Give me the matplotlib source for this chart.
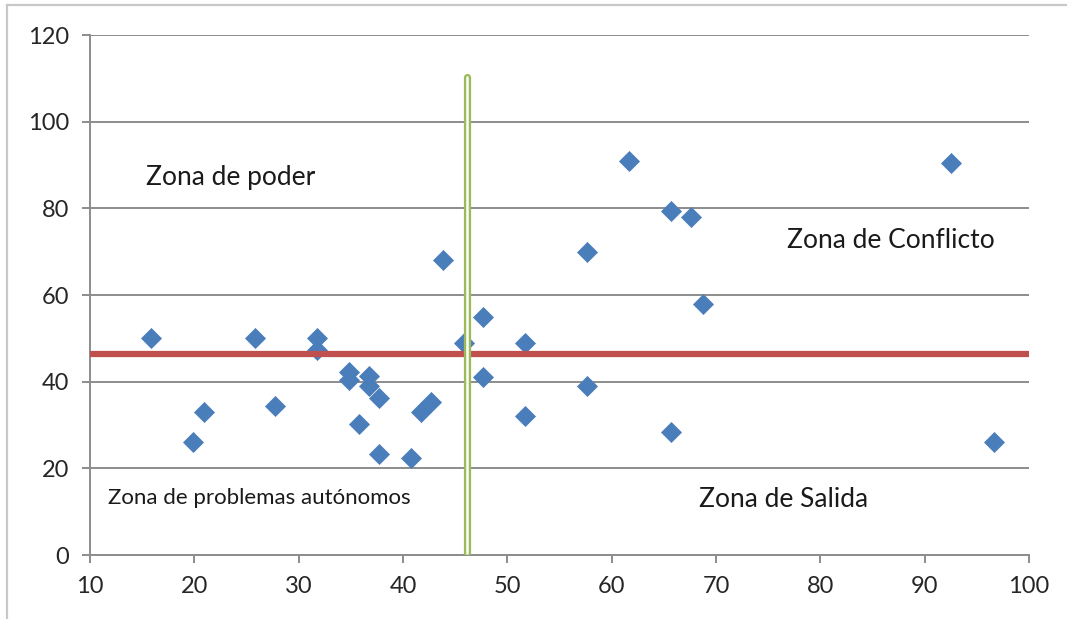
import matplotlib

matplotlib.use("Agg")
import matplotlib.pyplot as plt
from matplotlib.lines import Line2D

plt.rcParams["font.family"] = ["Lato", "DejaVu Sans"]

# Scatter points
x_vals = [15.85, 19.9, 20.9, 25.8, 27.7, 31.8, 31.8, 34.8, 34.8, 35.8, 36.7,
          36.7, 37.7, 37.7, 40.8, 41.7, 42.7, 43.8, 45.8, 47.7, 47.7, 51.7,
          51.7, 57.6, 57.6, 61.7, 65.7, 65.7, 67.6, 68.8, 92.5, 96.6]
y_vals = [50, 26, 33, 50, 34.4, 50, 47.3, 42.2, 40.4, 30.2, 41.3, 39, 36.2,
          23.3, 22.4, 33, 35.3, 68, 49, 55, 41, 49, 32, 70, 39, 91, 79.4,
          28.4, 78, 58, 90.5, 26]

# Dividing lines between the zones
h_split = 46.4
v_split = 46.1
v_span = (0.5, 110.2)

zone_labels = ["Zona de poder", "Zona de Conflicto", "Zona de Salida",
               "Zona de problemas autónomos"]
zone_pos = [(15.4, 87), (76.8, 72.5), (68.4, 12.7), (11.7, 13.2)]
zone_sizes = [19, 19, 19, 16]

x_ticks = [10, 20, 30, 40, 50, 60, 70, 80, 90, 100]
y_ticks = [0, 20, 40, 60, 80, 100, 120]

BLUE = "#4a7ebb"
RED = "#c0504d"
GREEN = "#9bbb59"
GRID = "#8c8c8c"

fig = plt.figure(figsize=(10.67, 6.19), dpi=100)
ax = fig.add_axes([90 / 1067, 1 - 555 / 619, 939 / 1067, 520 / 619])

ax.set_xlim(10, 100)
ax.set_ylim(0, 120)
ax.set_xticks(x_ticks)
ax.set_yticks(y_ticks)

ax.grid(axis="y", color=GRID, linewidth=1.4)
ax.grid(axis="x", visible=False)
ax.set_axisbelow(True)

for side in ("top", "right"):
    ax.spines[side].set_visible(False)
for side in ("left", "bottom"):
    ax.spines[side].set_color(GRID)
    ax.spines[side].set_linewidth(1.4)

ax.tick_params(axis="both", colors=GRID, length=6, width=1.4,
               labelsize=17, labelcolor="#262626")
ax.tick_params(axis="y", pad=9)
ax.tick_params(axis="x", pad=9)

ax.scatter(x_vals, y_vals, marker="D", s=115, color=BLUE, linewidths=0,
           zorder=3)

ax.plot([10, 100], [h_split, h_split], color=RED, linewidth=4.5,
        solid_capstyle="butt", zorder=4, clip_on=False)

# Hollow vertical divider: green outline with white core
ax.plot([v_split, v_split], v_span, color=GREEN, linewidth=5.2,
        solid_capstyle="round", zorder=5)
ax.plot([v_split, v_split], v_span, color="white", linewidth=1.8,
        solid_capstyle="round", zorder=6)

for label, (tx, ty), size in zip(zone_labels, zone_pos, zone_sizes):
    ax.text(tx, ty, label, fontsize=size, color="#1a1a1a",
            ha="left", va="center", zorder=7)

# Chart area frame
frame_color = "#c8c8c8"
fig.add_artist(Line2D([7 / 1067, 7 / 1067], [0, 1 - 5 / 619],
                      color=frame_color, linewidth=1.6))
fig.add_artist(Line2D([7 / 1067, 1], [1 - 5 / 619, 1 - 5 / 619],
                      color=frame_color, linewidth=1.6))

fig.savefig("out.png", dpi=100)
